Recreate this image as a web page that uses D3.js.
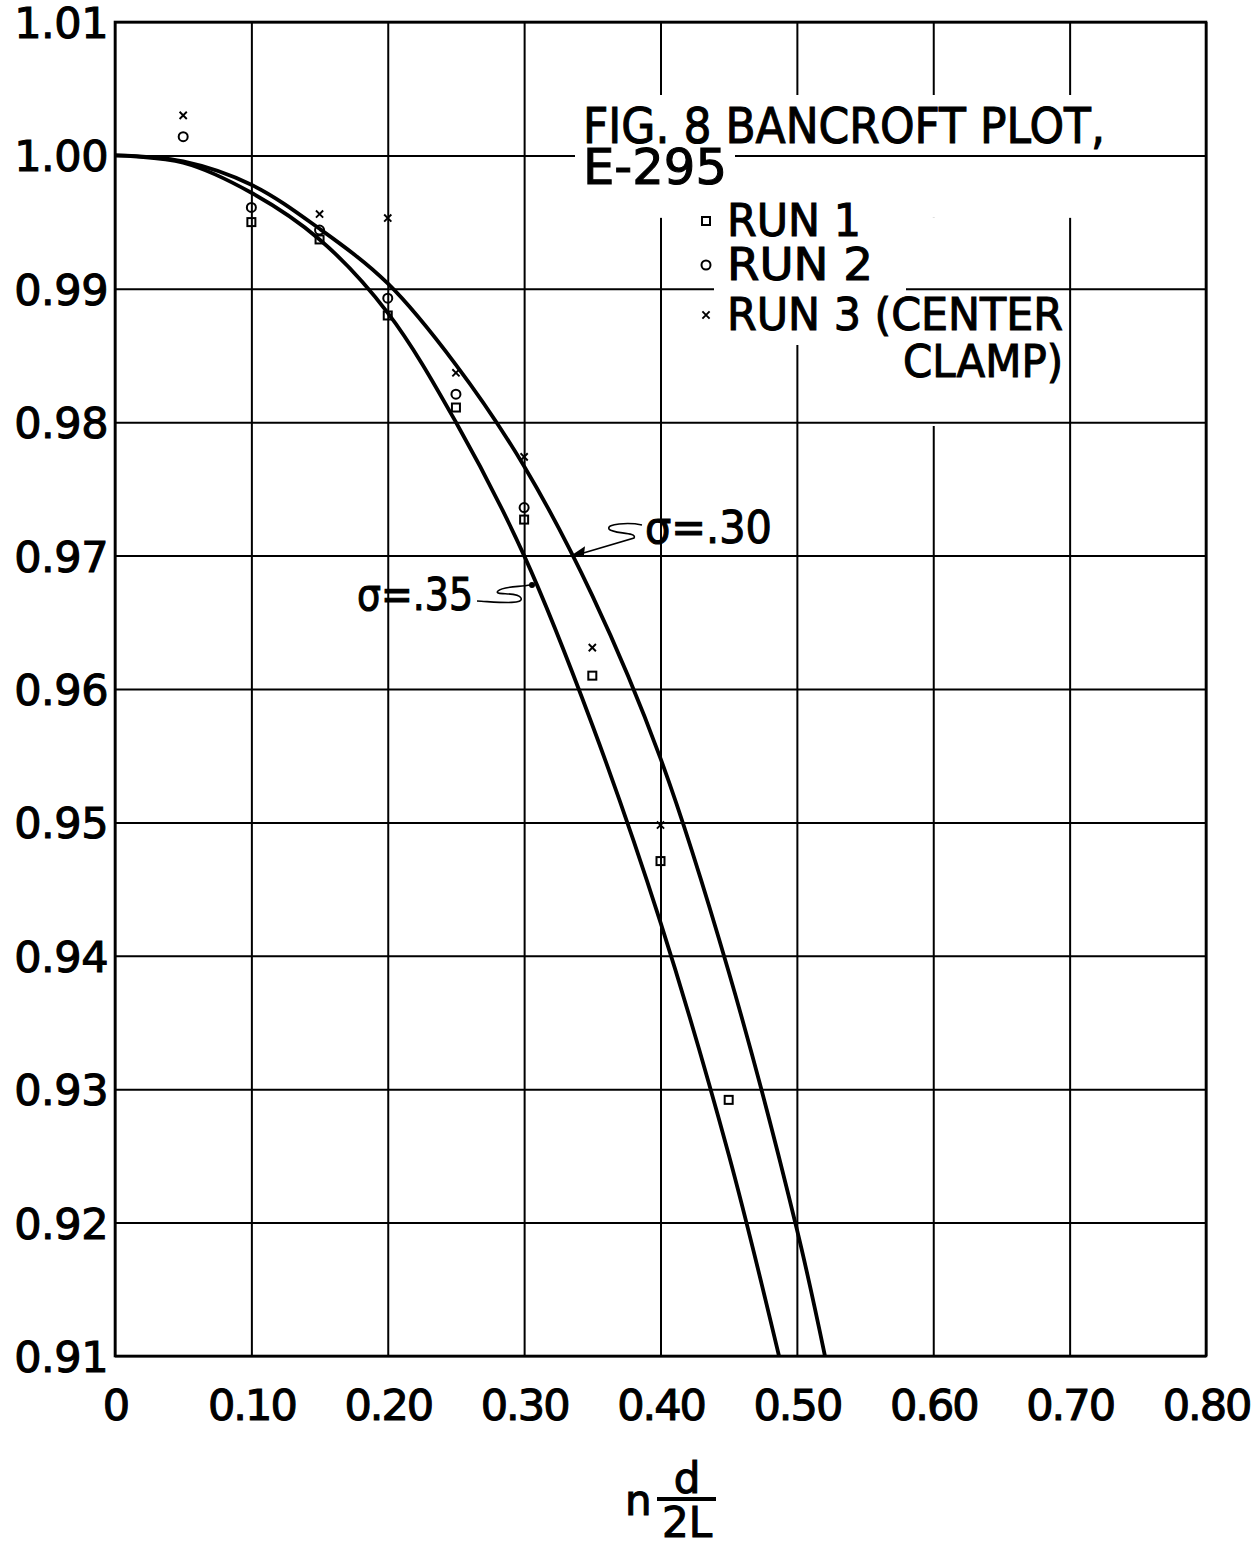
<!DOCTYPE html>
<html>
<head>
<meta charset="utf-8">
<script src="https://cdn.jsdelivr.net/npm/d3@7"></script>
<style>
  body { margin: 0; background: #fff; }
  text { font-family: "DejaVu Sans", sans-serif; fill: #000; stroke: #000; stroke-width: 1.1px; }
</style>
</head>
<body>
<div id="chart"></div>
<script>
// axis ticks
const xTicks = [0, 0.1, 0.2, 0.3, 0.4, 0.5, 0.6, 0.7, 0.8];
const xTickLabels = ["0", "0.10", "0.20", "0.30", "0.40", "0.50", "0.60", "0.70", "0.80"];
const yTicks = [0.91, 0.92, 0.93, 0.94, 0.95, 0.96, 0.97, 0.98, 0.99, 1.00, 1.01];
const yTickLabels = ["0.91", "0.92", "0.93", "0.94", "0.95", "0.96", "0.97", "0.98", "0.99", "1.00", "1.01"];

// theoretical curves
const sigma30X = [0, 0.05, 0.10, 0.15, 0.20, 0.25, 0.30, 0.35, 0.40, 0.45, 0.50, 0.5206];
const sigma30Y = [1.000, 0.99955, 0.9978, 0.9945, 0.9904, 0.9843, 0.9767, 0.9670, 0.9548, 0.9388, 0.9195, 0.9100];
const sigma35X = [0, 0.05, 0.10, 0.15, 0.20, 0.25, 0.30, 0.35, 0.40, 0.45, 0.4869];
const sigma35Y = [1.000, 0.99945, 0.9972, 0.9937, 0.9882, 0.9800, 0.9700, 0.9573, 0.9425, 0.9251, 0.9100];

// measured runs
const run1X = [0.10, 0.15, 0.20, 0.25, 0.30, 0.35, 0.40, 0.45];
const run1Y = [0.9950, 0.9937, 0.9880, 0.9811, 0.9727, 0.9610, 0.9471, 0.9292];
const run2X = [0.05, 0.10, 0.15, 0.20, 0.25, 0.30];
const run2Y = [1.0014, 0.9961, 0.9944, 0.9893, 0.9821, 0.9736];
const run3X = [0.05, 0.15, 0.20, 0.25, 0.30, 0.35, 0.40];
const run3Y = [1.0030, 0.9956, 0.9953, 0.9837, 0.9774, 0.9631, 0.9498];

const W = 1257, H = 1551;
const margin = { top: 22, right: 51, bottom: 195, left: 115 };
const width = W - margin.left - margin.right;
const height = H - margin.top - margin.bottom;

const svg = d3.select("#chart").append("svg")
    .attr("width", W)
    .attr("height", H)
    .style("background", "#fff");

const g = svg.append("g")
    .attr("transform", `translate(${margin.left},${margin.top})`);

const x = d3.scaleLinear().domain([0, 0.8]).range([0, width]);
const y = d3.scaleLinear().domain([0.91, 1.01]).range([height, 0]);

// layers (grid gaps behind the lettering, like the drawing)
const vGrid = g.append("g");
const vMask = g.append("g");
const hGrid = g.append("g");
const hMask = g.append("g");
const frameG = g.append("g");
const curveG = g.append("g");
const markG = g.append("g");
const textG = g.append("g");

vGrid.attr("transform", `translate(0,${height})`)
    .call(d3.axisBottom(x).tickValues(xTicks).tickSize(-height).tickFormat(""))
    .call(s => s.select(".domain").remove())
    .selectAll("line").attr("stroke", "#000").attr("stroke-width", 2);

hGrid.call(d3.axisLeft(y).tickValues(yTicks).tickSize(-width).tickFormat(""))
    .call(s => s.select(".domain").remove())
    .selectAll("line").attr("stroke", "#000").attr("stroke-width", 2);

frameG.append("rect")
    .attr("width", width).attr("height", height)
    .attr("fill", "none").attr("stroke", "#000").attr("stroke-width", 2.6);

// tick labels
const yAx = textG.append("g")
    .call(d3.axisLeft(y).tickValues(yTicks).tickSize(0).tickPadding(7)
        .tickFormat((d, i) => yTickLabels[i]));
yAx.select(".domain").remove();
yAx.selectAll("text")
    .attr("font-size", 43).attr("font-family", "DejaVu Sans")
    .attr("dy", "0.36em").attr("letter-spacing", -0.5).attr("fill", "#000");

const xAx = textG.append("g")
    .attr("transform", `translate(0,${height})`)
    .call(d3.axisBottom(x).tickValues(xTicks).tickSize(0).tickPadding(64)
        .tickFormat((d, i) => xTickLabels[i]));
xAx.select(".domain").remove();
xAx.selectAll("text")
    .attr("font-size", 43).attr("font-family", "DejaVu Sans")
    .attr("dy", 0).attr("letter-spacing", -2).attr("fill", "#000");

// curves
const line = d3.line()
    .x(d => x(d[0]))
    .y(d => y(d[1]))
    .curve(d3.curveCatmullRom.alpha(0.5));

[[sigma30X, sigma30Y], [sigma35X, sigma35Y]].forEach(([xs, ys]) => {
    curveG.append("path")
        .datum(xs.map((v, i) => [v, ys[i]]))
        .attr("fill", "none")
        .attr("stroke", "#000")
        .attr("stroke-width", 3.8)
        .attr("d", line);
});

// markers
function drawMarker(sel, kind) {
    if (kind === "square") {
        sel.append("rect").attr("x", -4).attr("y", -4).attr("width", 8).attr("height", 8)
            .attr("fill", "none").attr("stroke", "#000").attr("stroke-width", 2);
    } else if (kind === "circle") {
        sel.append("circle").attr("r", 4.5)
            .attr("fill", "none").attr("stroke", "#000").attr("stroke-width", 2);
    } else {
        sel.append("path").attr("d", "M-3.6,-3.6L3.6,3.6M-3.6,3.6L3.6,-3.6")
            .attr("stroke", "#000").attr("stroke-width", 1.9);
    }
}

const runs = [
    { xs: run1X, ys: run1Y, kind: "square" },
    { xs: run2X, ys: run2Y, kind: "circle" },
    { xs: run3X, ys: run3Y, kind: "cross" }
];
runs.forEach(r => {
    r.xs.forEach((v, i) => {
        const m = markG.append("g").attr("transform", `translate(${x(v)},${y(r.ys[i])})`);
        drawMarker(m, r.kind);
    });
});

// page coords for the annotation text
const page = svg.append("g");
const tStyle = s => s.attr("font-family", "DejaVu Sans").attr("fill", "#000");

const title1 = page.append("text").text("FIG. 8 BANCROFT PLOT,")
    .attr("x", 583).attr("y", 143).attr("font-size", 50)
    .attr("textLength", 522).attr("lengthAdjust", "spacingAndGlyphs").call(tStyle);
const title2 = page.append("text").text("E-295")
    .attr("x", 583).attr("y", 184).attr("font-size", 50)
    .attr("textLength", 144).attr("lengthAdjust", "spacingAndGlyphs").call(tStyle);

const legendRows = [
    { label: "RUN 1", kind: "square", base: 236, len: 134 },
    { label: "RUN 2", kind: "circle", base: 280, len: 146 },
    { label: "RUN 3 (CENTER", kind: "cross", base: 330, len: 336 }
];
const legX = 727;
const legText = legendRows.map(r => {
    const m = page.append("g").attr("transform", `translate(${legX - 21},${r.base - 15})`);
    drawMarker(m, r.kind);
    return page.append("text").text(r.label)
        .attr("x", legX).attr("y", r.base).attr("font-size", 45)
        .attr("textLength", r.len).attr("lengthAdjust", "spacingAndGlyphs").call(tStyle);
});
const clamp = page.append("text").text("CLAMP)")
    .attr("x", 1063).attr("y", 377).attr("font-size", 45).attr("text-anchor", "end")
    .attr("textLength", 160).attr("lengthAdjust", "spacingAndGlyphs").call(tStyle);

// sigma labels with their wavy leaders
page.append("text").text("σ=.30")
    .attr("x", 645).attr("y", 543).attr("font-size", 44)
    .attr("textLength", 127).attr("lengthAdjust", "spacingAndGlyphs").call(tStyle);
page.append("text").text("σ=.35")
    .attr("x", 357).attr("y", 610).attr("font-size", 44)
    .attr("textLength", 116).attr("lengthAdjust", "spacingAndGlyphs").call(tStyle);

const leaderG = page.append("g").attr("fill", "none").attr("stroke", "#000").attr("stroke-width", 1.6);
leaderG.append("path").attr("d", "M642,525 C628,522 606,524 609,529 C612,534 638,532 634,538 L580,554");
leaderG.append("path").attr("d", "M572,556 L584,548 L583,556 Z").attr("fill", "#000");
leaderG.append("path").attr("d", "M477,601 C497,602 524,605 521,598 C518,591 493,596 498,591 C503,586 520,587 530,585");
leaderG.append("circle").attr("cx", 532).attr("cy", 585).attr("r", 2.2).attr("fill", "#000");

// axis title n d/2L
page.append("text").text("n").attr("x", 625).attr("y", 1515).attr("font-size", 42).call(tStyle);
page.append("text").text("d").attr("x", 687).attr("y", 1493).attr("font-size", 42)
    .attr("text-anchor", "middle").call(tStyle);
page.append("line").attr("x1", 657).attr("x2", 716).attr("y1", 1499).attr("y2", 1499)
    .attr("stroke", "#000").attr("stroke-width", 4);
page.append("text").text("2L").attr("x", 687).attr("y", 1537).attr("font-size", 42)
    .attr("text-anchor", "middle").call(tStyle);

// gaps in the grid around the lettering (page coords -> plot coords)
const bb = t => t.node().getBBox();
const ox = margin.left, oy = margin.top;
function maskRect(layer, x0, y0, x1, y1) {
    layer.append("rect")
        .attr("x", x0 - ox).attr("y", y0 - oy)
        .attr("width", x1 - x0).attr("height", y1 - y0)
        .attr("fill", "#fff");
}
const t1 = bb(title1), t2 = bb(title2);
const r1 = bb(legText[0]), r2 = bb(legText[1]), r3 = bb(legText[2]), rc = bb(clamp);
const legTop = r1.y + r1.height * 0.45;
maskRect(vMask, t1.x - 10, t1.y - 2, t1.x + t1.width + 12, legTop);
maskRect(vMask, legX - 30, legTop, r3.x + r3.width + 1, r3.y + r3.height + 4);
maskRect(vMask, rc.x - 10, rc.y, rc.x + rc.width + 1, rc.y + rc.height + 38);
maskRect(hMask, t2.x - 8, t2.y, t2.x + t2.width + 8, t2.y + t2.height);
maskRect(hMask, legX - 13, r2.y, r2.x + r2.width + 33, r2.y + r2.height + 12);
</script>
</body>
</html>
